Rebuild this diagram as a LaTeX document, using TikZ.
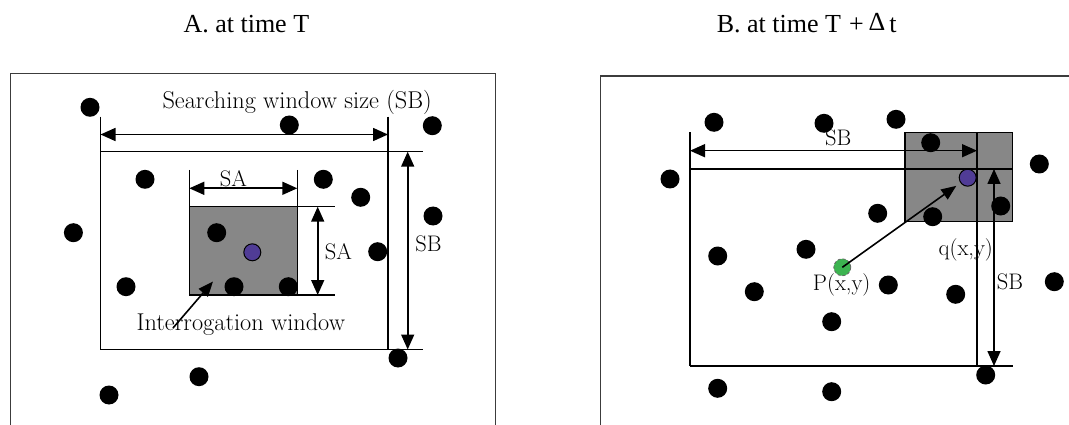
\documentclass[tikz,border=0pt]{standalone}
\usepackage{fontspec}
\usepackage{tikz}
\usetikzlibrary{arrows.meta}
\newfontfamily\titlefont{Liberation Serif}
\definecolor{framegray}{RGB}{60,60,60}
\definecolor{boxgray}{RGB}{135,135,135}
\definecolor{dotpurple}{RGB}{80,60,150}
\definecolor{dotgreen}{RGB}{60,180,80}
\tikzset{
  dimline/.style={{Triangle[length=15pt,width=13pt]}-{Triangle[length=15pt,width=13pt]}},
  pointer/.style={-{Triangle[length=15pt,width=12pt]}},
  lbl/.style={font=\fontsize{22.5}{26}\selectfont, inner sep=0pt},
  lbllong/.style={font=\fontsize{24.3}{28}\selectfont, inner sep=0pt},
  ttl/.style={font=\titlefont\fontsize{26}{30}\selectfont, inner sep=0pt, anchor=base west},
  frame/.style={draw=framegray, line width=1.3pt}
}
\begin{document}
\begin{tikzpicture}[x=1pt,y=-1pt,line width=1.6pt]
            \fill[white] (0,0) rectangle (1069,425);
            \useasboundingbox (0,0) rectangle (1069,425);
            % titles
            \node[ttl] (ta) at (182.7,32.3) {A. at time T};
            \node[ttl] (tb) at (716,32.3) {B. at time T\hspace{8pt}+\hspace{5pt}\raisebox{2pt}{Δ}\hspace{4pt}t};
            % frames
            \draw[frame] (10.5,425) -- (10.5,73.3) -- (495.7,73.3) -- (495.7,425);
            \draw[frame] (600.3,425) -- (600.3,76) -- (1069,76);
            % A: interrogation window and searching window
            \draw[fill=boxgray, line width=1.2pt] (189.3,206.7) rectangle (297.3,295);
            \coordinate (swTL) at (100.5,116.7);
            \coordinate (swTR) at (388,116.7);
            \coordinate (swBL) at (100.5,349.5);
            \coordinate (swBR) at (388,349.5);
            \coordinate (swTop) at (100.5,151.7);
            \coordinate (swTopEnd) at (423,151.7);
            \coordinate (swBotEnd) at (423,349.5);
            \draw (swTL) -- (swBL);
            \draw (swTR) -- (swBR);
            \draw (swTop) -- (swTopEnd);
            \draw (swBL) -- (swBotEnd);
            \coordinate (iwL) at (189.3,170);
            \coordinate (iwLB) at (189.3,206.7);
            \coordinate (iwR) at (297.3,170);
            \coordinate (iwRB) at (297.3,206.7);
            \coordinate (iwBR) at (297.3,295);
            \coordinate (iwTopEnd) at (335,206.7);
            \coordinate (iwBotEnd) at (335,295);
            \draw (iwL) -- (iwLB);
            \draw (iwR) -- (iwRB);
            \draw (iwRB) -- (iwTopEnd);
            \draw (iwBR) -- (iwBotEnd);
            \coordinate (sbA1) at (100.5,134.5);
            \coordinate (sbA2) at (388,134.5);
            \coordinate (sbA3) at (407.7,151.7);
            \coordinate (sbA4) at (407.7,349.5);
            \coordinate (saA1) at (189.3,188.3);
            \coordinate (saA2) at (297.3,188.3);
            \coordinate (saA3) at (317.7,206.7);
            \coordinate (saA4) at (317.7,295);
            \draw[dimline] (sbA1) -- (sbA2);
            \draw[dimline] (sbA3) -- (sbA4);
            \draw[dimline] (saA1) -- (saA2);
            \draw[dimline] (saA3) -- (saA4);
            % B: moved window and searching window
            \draw[fill=boxgray, line width=1.2pt] (905,132.7) rectangle (1012.3,221.7);
            \coordinate (bTL) at (690,132.5);
            \coordinate (bBL) at (690,366);
            \coordinate (bTR) at (977,132.7);
            \coordinate (bBR) at (977,366);
            \coordinate (bTop) at (690,169);
            \coordinate (bTopEnd) at (1013,169);
            \coordinate (bBotEnd) at (1013,366);
            \draw (bTL) -- (bBL);
            \draw (bTR) -- (bBR);
            \draw (bTop) -- (bTopEnd);
            \draw (bBL) -- (bBotEnd);
            \coordinate (sbB1) at (690,150.7);
            \coordinate (sbB2) at (977,150.7);
            \coordinate (sbB3) at (994,169);
            \coordinate (sbB4) at (994,366);
            \draw[dimline] (sbB1) -- (sbB2);
            \draw[dimline] (sbB3) -- (sbB4);
            % particles
            \begin{scope}[every node/.style={circle,fill=black,inner sep=0pt,minimum size=19pt}]
                \node (a1) at (90,107.3) {};
                \node (a2) at (289.3,125) {};
                \node (a3) at (432.3,125.7) {};
                \node (a4) at (145,179.3) {};
                \node (a5) at (323.3,179.3) {};
                \node (a6) at (360.7,197.3) {};
                \node (a7) at (433,216) {};
                \node (a8) at (73.4,232.7) {};
                \node (a9) at (216.7,232.7) {};
                \node (a10) at (377.7,251.7) {};
                \node (a11) at (126,286.7) {};
                \node (a12) at (234,286.7) {};
                \node (a13) at (288.3,286.7) {};
                \node (a14) at (398,358) {};
                \node (a15) at (199,376.7) {};
                \node (a16) at (109,395) {};
                \node (b1) at (714,122.3) {};
                \node (b2) at (824,123.3) {};
                \node (b3) at (896,119.3) {};
                \node (b4) at (930.7,142.7) {};
                \node (b5) at (670,179) {};
                \node (b6) at (1039.3,164) {};
                \node (b7) at (877.7,213.3) {};
                \node (b8) at (932.7,216.7) {};
                \node (b9) at (1000.7,206) {};
                \node (b10) at (717.7,256) {};
                \node (b11) at (806,249.3) {};
                \node (b12) at (754.3,291.7) {};
                \node (b13) at (888.3,285) {};
                \node (b14) at (955.7,294.3) {};
                \node (b15) at (1054.3,281.7) {};
                \node (b16) at (831.7,321.7) {};
                \node (b17) at (985.7,375) {};
                \node (b18) at (717.7,388.3) {};
                \node (b19) at (831.7,391.7) {};
            \end{scope}
            \node[circle,fill=dotpurple,draw=black,line width=1pt,inner sep=0pt,minimum size=17pt] (pa) at (252.3,252.3) {};
            \node[circle,fill=dotpurple,draw=black,line width=1pt,inner sep=0pt,minimum size=17pt] (q) at (967.7,177.7) {};
            \node[circle,fill=dotgreen,draw=black!60,densely dashed,line width=0.8pt,inner sep=0pt,minimum size=17pt] (P) at (842.3,267.3) {};
            \draw[pointer, shorten >=5pt] (P.center) -- (q);
            % labels
            \node[lbllong] (swlbl) at (297.2,102.5) {Searching window size (SB)};
            \node[lbl, anchor=base] (saTop) at (233.3,187) {SA};
            \node[lbl, anchor=base] (saRight) at (338.3,259) {SA};
            \node[lbl, anchor=base] (sbRightA) at (428.5,251.7) {SB};
            \node[lbllong, anchor=base] (iwlbl) at (240.8,330) {Interrogation window};
            \coordinate (iwTail) at (173,328);
            \coordinate (iwTip) at (213,281.5);
            \draw[pointer] (iwTail) -- (iwTip);
            \node[lbl, anchor=base] (sbTopB) at (838.3,146) {SB};
            \node[lbl, anchor=base] (sbRightB) at (1010,289.3) {SB};
            \node[lbl] (qlbl) at (965.8,249.5) {q(x,y)};
            \node[lbl] (plbl) at (841.7,284.7) {P(x,y)};
        \end{tikzpicture}
\end{document}
